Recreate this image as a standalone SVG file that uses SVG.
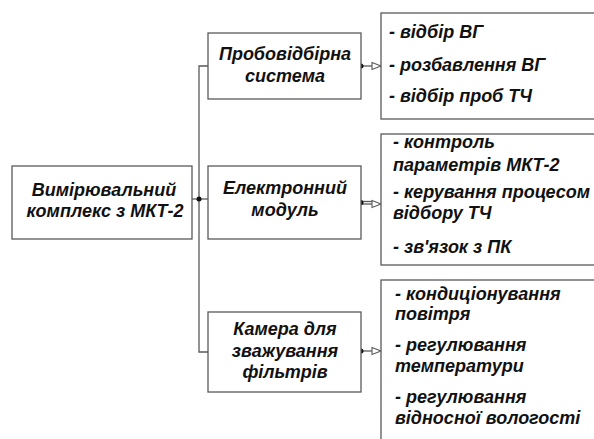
<svg xmlns="http://www.w3.org/2000/svg" width="594" height="439" viewBox="0 0 594 439">
<style>
.box{fill:#fff;stroke:#5a5a5a;stroke-width:1.3}
.ln{fill:none;stroke:#5a5a5a;stroke-width:1.3}
text{font-family:"Liberation Sans",Arial,sans-serif;font-weight:bold;font-style:italic;font-size:18px;fill:#111}
.c{text-anchor:middle}
</style>
<defs>
<marker id="tri" markerWidth="12" markerHeight="10" refX="10" refY="5" orient="auto" markerUnits="userSpaceOnUse">
<path d="M1,1.5 L10,5 L1,8.5 Z" fill="#fff" stroke="#5a5a5a" stroke-width="1.1"/>
</marker>
</defs>
<rect width="594" height="439" fill="#fff"/>
<g id="connectors">
<path class="ln" d="M208,66 H199 V352 H208"/>
<path class="ln" d="M192,199 H208"/>
<circle cx="199" cy="199" r="2.5" fill="#111"/>
<path class="ln" d="M361,66 H381" marker-end="url(#tri)"/>
<circle cx="361" cy="66" r="2.5" fill="#111"/>
<path class="ln" d="M361,201.5 H373" stroke-width="1"/>
<path class="ln" d="M361,204 H381" stroke-width="1" marker-end="url(#tri)"/>
<circle cx="361" cy="202.5" r="2.5" fill="#111"/>
<path class="ln" d="M361,351 H381" marker-end="url(#tri)"/>
<circle cx="361" cy="351" r="2.5" fill="#111"/>
</g>
<g id="main">
<rect class="box" x="12" y="166" width="180" height="73"/>
<text class="c" x="104" y="196">Вимірювальний</text>
<text class="c" x="105" y="217">комплекс з МКТ-2</text>
</g>
<g id="probe">
<rect class="box" x="208" y="33" width="153" height="66"/>
<text class="c" x="285" y="60">Пробовідбірна</text>
<text class="c" x="285" y="82">система</text>
</g>
<g id="electronic">
<rect class="box" x="208" y="166" width="153" height="73"/>
<text class="c" x="285" y="194">Електронний</text>
<text class="c" x="285" y="216">модуль</text>
</g>
<g id="camera">
<rect class="box" x="208" y="312" width="153" height="80"/>
<text class="c" x="285" y="335">Камера для</text>
<text class="c" x="285" y="357">зважування</text>
<text class="c" x="285" y="378">фільтрів</text>
</g>
<g id="probe-list">
<rect class="box" x="381" y="13" width="230" height="106"/>
<text x="389" y="38">- відбір ВГ</text>
<text x="389" y="71">- розбавлення ВГ</text>
<text x="389" y="102">- відбір проб ТЧ</text>
</g>
<g id="electronic-list">
<rect class="box" x="381" y="134" width="230" height="131"/>
<text x="393" y="148">- контроль</text>
<text x="393" y="171">параметрів МКТ-2</text>
<text x="393" y="198">- керування процесом</text>
<text x="393" y="219">відбору ТЧ</text>
<text x="393" y="253">- зв'язок з ПК</text>
</g>
<g id="camera-list">
<rect class="box" x="381" y="280" width="230" height="180"/>
<text x="395" y="300">- кондиціонування</text>
<text x="395" y="320">повітря</text>
<text x="395" y="351">- регулювання</text>
<text x="395" y="372">температури</text>
<text x="395" y="403">- регулювання</text>
<text x="395" y="424">відносної вологості</text>
</g>
</svg>
